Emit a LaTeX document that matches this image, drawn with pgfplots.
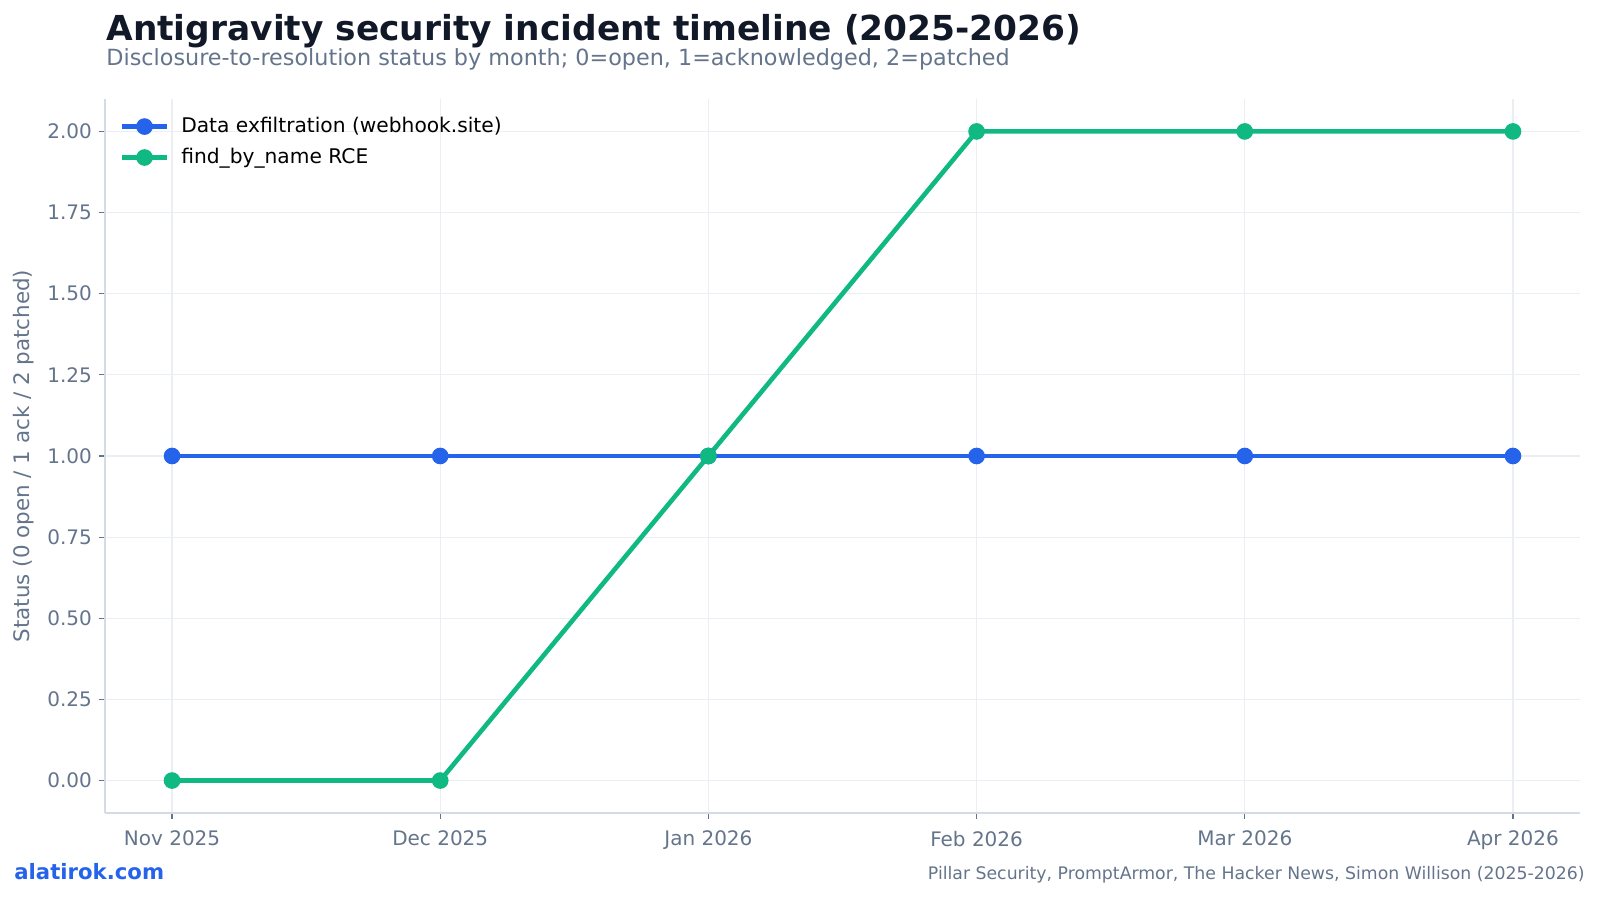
\documentclass[border=0pt]{standalone}
\usepackage{fontspec}
\setmainfont{DejaVu Sans}
\usepackage{pgfplots}
\pgfplotsset{compat=1.18}
\definecolor{titlec}{HTML}{111827}
\definecolor{subc}{HTML}{64748B}
\definecolor{gridc}{HTML}{EBEEF3}
\definecolor{spinec}{HTML}{D5DBE4}
\definecolor{blueline}{HTML}{2563EB}
\definecolor{greenline}{HTML}{10B981}
\begin{document}
\begin{tikzpicture}[x=0.5pt,y=0.5pt]
\useasboundingbox (0,0) rectangle (1600,899);
\begin{axis}[
  at={(52.5pt,43pt)}, anchor=south west,
  width=737.5pt, height=357pt, scale only axis,
  xmin=-0.25, xmax=5.25, ymin=-0.1, ymax=2.1,
  xtick={0,1,2,3,4,5},
  xticklabels={Nov 2025,Dec 2025,Jan 2026,Feb 2026,Mar 2026,Apr 2026},
  ytick={0,0.25,0.5,0.75,1,1.25,1.5,1.75,2},
  yticklabel style={/pgf/number format/.cd,fixed,fixed zerofill,precision=2},
  xticklabel style={yshift=-2.5pt},
  /pgf/number format/assume math mode=true,
  ticklabel style={font=\fontsize{10}{12}\selectfont, text=subc},
  axis x line*=bottom, axis y line*=left,
  axis line style={draw=spinec, line width=0.8pt, -},
  tick style={draw=subc, line width=0.6pt},
  tick align=outside, major tick length=3pt,
  grid=major, major grid style={draw=gridc, line width=0.6pt},
  ylabel={Status (0 open / 1 ack / 2 patched)},
  every axis y label/.style={at={(ticklabel cs:0.5)}, rotate=90, anchor=south,
    font=\fontsize{10.7}{12}\selectfont, text=subc},
  legend style={draw=none, fill=none, at={(0.01,0.986)}, anchor=north west, xshift=-3pt,
    font=\fontsize{10.1}{12}\selectfont, row sep=2.3pt},
  legend cell align=left,
  legend image code/.code={
    \draw[#1, mark=none] (0cm,0cm) -- (0.776cm,0cm);
    \draw[#1, only marks] plot coordinates {(0.388cm,0cm)};
    \path (0.776cm+4.2pt,0cm);
  },
  clip=false,
]
\addplot[blueline, line width=2.3pt, mark=*, mark size=3pt, mark options={solid, fill=blueline, draw=blueline}]
  coordinates {(0,1) (1,1) (2,1) (3,1) (4,1) (5,1)};
\addlegendentry{Data exfiltration (webhook.site)}
\addplot[greenline, line width=2.3pt, mark=*, mark size=3pt, mark options={solid, fill=greenline, draw=greenline}]
  coordinates {(0,0) (1,0) (2,1) (3,2) (4,2) (5,2)};
\addlegendentry{find\_by\_name RCE}
\end{axis}
\node[anchor=base west, inner sep=0pt, text=titlec, font=\fontsize{17.2}{20}\selectfont\bfseries] at (106,858) {Antigravity security incident timeline (2025-2026)};
\node[anchor=base west, inner sep=0pt, text=subc, font=\fontsize{11.15}{13}\selectfont] at (106,833.5) {Disclosure-to-resolution status by month; 0=open, 1=acknowledged, 2=patched};
\node[anchor=base west, inner sep=0pt, text=blueline, font=\fontsize{10.6}{12}\selectfont\bfseries] at (14,19) {alatirok.com};
\node[anchor=base east, inner sep=0pt, text=subc, font=\fontsize{8.65}{10}\selectfont] at (1585,19) {Pillar Security, PromptArmor, The Hacker News, Simon Willison (2025-2026)};
\end{tikzpicture}
\end{document}
